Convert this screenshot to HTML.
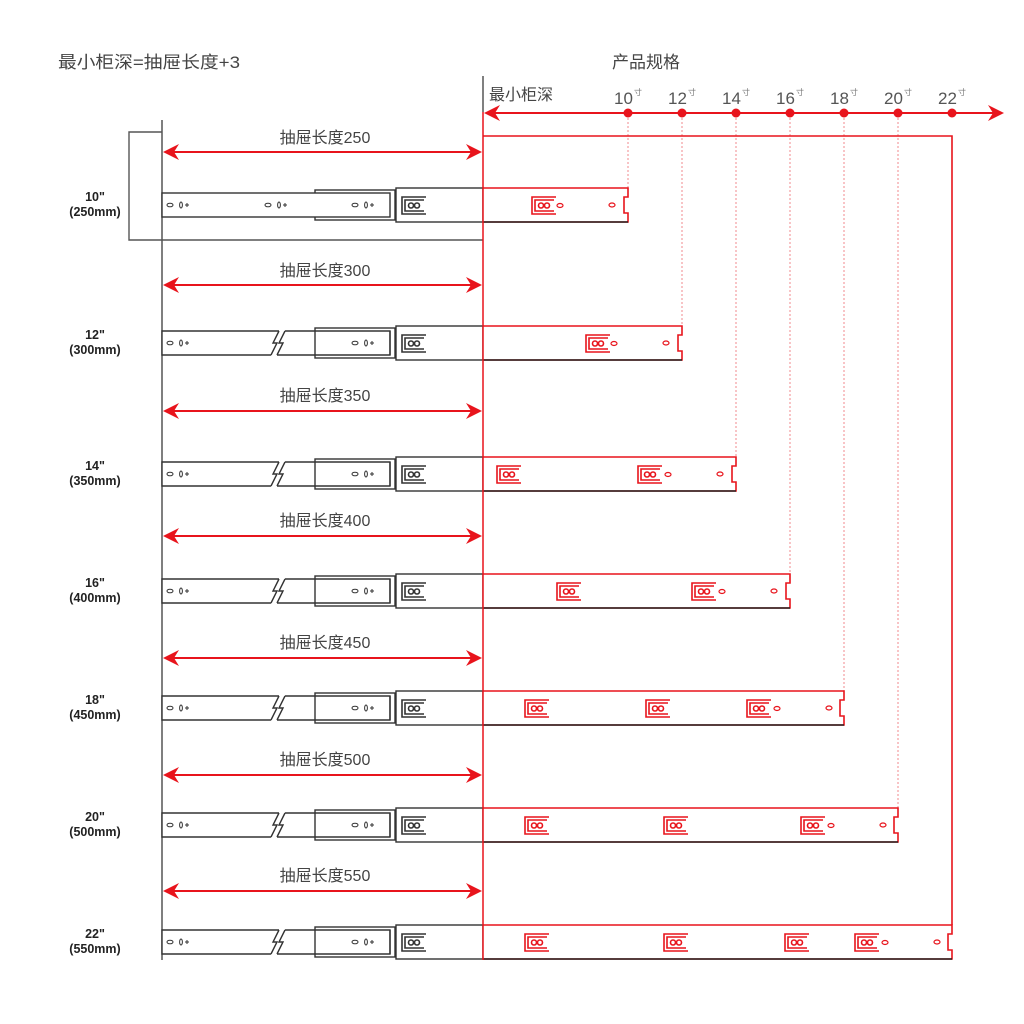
<!DOCTYPE html>
<html><head><meta charset="utf-8"><style>
html,body{margin:0;padding:0;background:#fff;}
svg{display:block;font-family:"Liberation Sans","Noto Sans CJK SC",sans-serif;}
</style></head><body>
<svg width="1024" height="1024" viewBox="0 0 1024 1024" xmlns="http://www.w3.org/2000/svg">
<defs>
<g id="clip" fill="none" stroke="currentColor" stroke-width="1.6">
<path d="M24,-8 H0 V9 H24"/><path d="M22,-5 H3 V6 H22"/>
<circle cx="9" cy="0.5" r="2.5"/><circle cx="15" cy="0.5" r="2.5"/>
</g>
<g id="holes" fill="none" stroke="#333" stroke-width="1">
<ellipse cx="0" cy="0" rx="3" ry="1.8"/><ellipse cx="11" cy="0" rx="1.4" ry="3"/><path d="M17,-2 V2 M15,0 H19"/>
</g>
<g id="ahL" fill="#e8141c"><polygon points="0,0 16,-8 11,0 16,8"/></g>
<g id="ahR" fill="#e8141c"><polygon points="0,0 -16,-8 -11,0 -16,8"/></g>
<g id="slideBreak" fill="none" stroke="#333" stroke-width="1.4">
<rect x="315" y="-15" width="80" height="30" fill="#fff"/>
<path d="M279,-12 H162 V12 H271 M279,-12 L273,0 L277,0 L271,12" fill="#fff"/>
<path d="M285,-12 H390 V12 H277 M285,-12 L279,0 L283,0 L277,12"/>
<path d="M390,-12 V12"/>
<use href="#holes" x="170"/><use href="#holes" x="355"/>
<rect x="396" y="-17" width="87" height="34" fill="#fff"/>
<use href="#clip" x="402" style="color:#333"/>
</g>
<g id="slideFull" fill="none" stroke="#333" stroke-width="1.4">
<rect x="315" y="-15" width="80" height="30" fill="#fff"/>
<rect x="162" y="-12" width="228" height="24" fill="#fff"/>
<use href="#holes" x="170"/><use href="#holes" x="268"/><use href="#holes" x="355"/>
<rect x="396" y="-17" width="87" height="34" fill="#fff"/>
<use href="#clip" x="402" style="color:#333"/>
</g>
</defs>

<!-- headings -->
<text x="58" y="68" font-size="17" fill="#444" textLength="182" lengthAdjust="spacingAndGlyphs">最小柜深=抽屉长度+3</text>
<text x="612" y="68" font-size="17" fill="#444">产品规格</text>
<text x="489" y="100" font-size="16" fill="#444">最小柜深</text>
<line x1="483" y1="76" x2="483" y2="112" stroke="#555" stroke-width="1.5"/>

<!-- top axis -->
<line x1="486" y1="113" x2="1000" y2="113" stroke="#e8141c" stroke-width="2"/>
<use href="#ahL" x="484" y="113"/><use href="#ahR" x="1004" y="113"/>
<g fill="#555" font-size="17">
<text x="614" y="104">10</text><text x="668" y="104">12</text><text x="722" y="104">14</text><text x="776" y="104">16</text><text x="830" y="104">18</text><text x="884" y="104">20</text><text x="938" y="104">22</text>
</g>
<g fill="#777" font-size="8">
<text x="634" y="95">寸</text><text x="688" y="95">寸</text><text x="742" y="95">寸</text><text x="796" y="95">寸</text><text x="850" y="95">寸</text><text x="904" y="95">寸</text><text x="958" y="95">寸</text>
</g>
<g fill="#e8141c">
<circle cx="628" cy="113" r="4.5"/><circle cx="682" cy="113" r="4.5"/><circle cx="736" cy="113" r="4.5"/><circle cx="790" cy="113" r="4.5"/><circle cx="844" cy="113" r="4.5"/><circle cx="898" cy="113" r="4.5"/><circle cx="952" cy="113" r="4.5"/>
</g>
<g stroke="#f08a8e" stroke-width="1" stroke-dasharray="2,2">
<line x1="628" y1="118" x2="628" y2="188"/><line x1="682" y1="118" x2="682" y2="326"/><line x1="736" y1="118" x2="736" y2="457"/><line x1="790" y1="118" x2="790" y2="574"/><line x1="844" y1="118" x2="844" y2="691"/><line x1="898" y1="118" x2="898" y2="808"/>
</g>
<path d="M483,136 H952 V925" fill="none" stroke="#e8141c" stroke-width="1.6"/>

<!-- cabinet -->
<path d="M162,132 H129 V240 H483" fill="none" stroke="#555" stroke-width="1.4"/>
<line x1="162" y1="120" x2="162" y2="960" stroke="#555" stroke-width="1.5"/>

<!-- dimension arrows -->
<g stroke="#e8141c" stroke-width="2">
<line x1="168" y1="152" x2="478" y2="152"/><line x1="168" y1="285" x2="478" y2="285"/><line x1="168" y1="411" x2="478" y2="411"/><line x1="168" y1="536" x2="478" y2="536"/><line x1="168" y1="658" x2="478" y2="658"/><line x1="168" y1="775" x2="478" y2="775"/><line x1="168" y1="891" x2="478" y2="891"/>
</g>
<use href="#ahL" x="163" y="152"/><use href="#ahR" x="482" y="152"/>
<use href="#ahL" x="163" y="285"/><use href="#ahR" x="482" y="285"/>
<use href="#ahL" x="163" y="411"/><use href="#ahR" x="482" y="411"/>
<use href="#ahL" x="163" y="536"/><use href="#ahR" x="482" y="536"/>
<use href="#ahL" x="163" y="658"/><use href="#ahR" x="482" y="658"/>
<use href="#ahL" x="163" y="775"/><use href="#ahR" x="482" y="775"/>
<use href="#ahL" x="163" y="891"/><use href="#ahR" x="482" y="891"/>
<g font-size="16" fill="#444" text-anchor="middle">
<text x="325" y="143">抽屉长度250</text><text x="325" y="276">抽屉长度300</text><text x="325" y="401">抽屉长度350</text><text x="325" y="526">抽屉长度400</text><text x="325" y="648">抽屉长度450</text><text x="325" y="765">抽屉长度500</text><text x="325" y="881">抽屉长度550</text>
</g>

<!-- row labels -->
<g font-size="12.5" font-weight="bold" fill="#222" text-anchor="middle">
<text x="95" y="201">10"</text><text x="95" y="216">(250mm)</text>
<text x="95" y="339">12"</text><text x="95" y="354">(300mm)</text>
<text x="95" y="470">14"</text><text x="95" y="485">(350mm)</text>
<text x="95" y="587">16"</text><text x="95" y="602">(400mm)</text>
<text x="95" y="704">18"</text><text x="95" y="719">(450mm)</text>
<text x="95" y="821">20"</text><text x="95" y="836">(500mm)</text>
<text x="95" y="938">22"</text><text x="95" y="953">(550mm)</text>
</g>

<!-- rows -->
<g fill="none" stroke-width="1.6">
<g transform="translate(0,205)">
<use href="#slideFull"/>
<path d="M483,-17 H628 V-8 H624 V8 H628 V17 H483" stroke="#e8141c" fill="#fff"/>
<line x1="483" y1="17" x2="628" y2="17" stroke="#222" stroke-width="1.4"/>
<use href="#clip" x="532" style="color:#e8141c"/><ellipse cx="560" cy="0.5" rx="3" ry="2" stroke="#e8141c" stroke-width="1.2"/>
<ellipse cx="612" cy="0" rx="3" ry="2" stroke="#e8141c" stroke-width="1.2"/>
</g>
<g transform="translate(0,343)">
<use href="#slideBreak"/>
<path d="M483,-17 H682 V-8 H678 V8 H682 V17 H483" stroke="#e8141c" fill="#fff"/>
<line x1="483" y1="17" x2="682" y2="17" stroke="#222" stroke-width="1.4"/>
<use href="#clip" x="586" style="color:#e8141c"/><ellipse cx="614" cy="0.5" rx="3" ry="2" stroke="#e8141c" stroke-width="1.2"/>
<ellipse cx="666" cy="0" rx="3" ry="2" stroke="#e8141c" stroke-width="1.2"/>
</g>
<g transform="translate(0,474)">
<use href="#slideBreak"/>
<path d="M483,-17 H736 V-8 H732 V8 H736 V17 H483" stroke="#e8141c" fill="#fff"/>
<line x1="483" y1="17" x2="736" y2="17" stroke="#222" stroke-width="1.4"/>
<use href="#clip" x="497" style="color:#e8141c"/>
<use href="#clip" x="638" style="color:#e8141c"/><ellipse cx="668" cy="0.5" rx="3" ry="2" stroke="#e8141c" stroke-width="1.2"/>
<ellipse cx="720" cy="0" rx="3" ry="2" stroke="#e8141c" stroke-width="1.2"/>
</g>
<g transform="translate(0,591)">
<use href="#slideBreak"/>
<path d="M483,-17 H790 V-8 H786 V8 H790 V17 H483" stroke="#e8141c" fill="#fff"/>
<line x1="483" y1="17" x2="790" y2="17" stroke="#222" stroke-width="1.4"/>
<use href="#clip" x="557" style="color:#e8141c"/>
<use href="#clip" x="692" style="color:#e8141c"/><ellipse cx="722" cy="0.5" rx="3" ry="2" stroke="#e8141c" stroke-width="1.2"/>
<ellipse cx="774" cy="0" rx="3" ry="2" stroke="#e8141c" stroke-width="1.2"/>
</g>
<g transform="translate(0,708)">
<use href="#slideBreak"/>
<path d="M483,-17 H844 V-8 H840 V8 H844 V17 H483" stroke="#e8141c" fill="#fff"/>
<line x1="483" y1="17" x2="844" y2="17" stroke="#222" stroke-width="1.4"/>
<use href="#clip" x="525" style="color:#e8141c"/>
<use href="#clip" x="646" style="color:#e8141c"/>
<use href="#clip" x="747" style="color:#e8141c"/><ellipse cx="777" cy="0.5" rx="3" ry="2" stroke="#e8141c" stroke-width="1.2"/>
<ellipse cx="829" cy="0" rx="3" ry="2" stroke="#e8141c" stroke-width="1.2"/>
</g>
<g transform="translate(0,825)">
<use href="#slideBreak"/>
<path d="M483,-17 H898 V-8 H894 V8 H898 V17 H483" stroke="#e8141c" fill="#fff"/>
<line x1="483" y1="17" x2="898" y2="17" stroke="#222" stroke-width="1.4"/>
<use href="#clip" x="525" style="color:#e8141c"/>
<use href="#clip" x="664" style="color:#e8141c"/>
<use href="#clip" x="801" style="color:#e8141c"/><ellipse cx="831" cy="0.5" rx="3" ry="2" stroke="#e8141c" stroke-width="1.2"/>
<ellipse cx="883" cy="0" rx="3" ry="2" stroke="#e8141c" stroke-width="1.2"/>
</g>
<g transform="translate(0,942)">
<use href="#slideBreak"/>
<path d="M483,-17 H952 V-8 H948 V8 H952 V17 H483" stroke="#e8141c" fill="#fff"/>
<line x1="483" y1="17" x2="952" y2="17" stroke="#222" stroke-width="1.4"/>
<use href="#clip" x="525" style="color:#e8141c"/>
<use href="#clip" x="664" style="color:#e8141c"/>
<use href="#clip" x="785" style="color:#e8141c"/>
<use href="#clip" x="855" style="color:#e8141c"/><ellipse cx="885" cy="0.5" rx="3" ry="2" stroke="#e8141c" stroke-width="1.2"/>
<ellipse cx="937" cy="0" rx="3" ry="2" stroke="#e8141c" stroke-width="1.2"/>
</g>
</g>
<line x1="483" y1="112" x2="483" y2="960" stroke="#e8141c" stroke-width="1.5"/>
</svg>
</body></html>
